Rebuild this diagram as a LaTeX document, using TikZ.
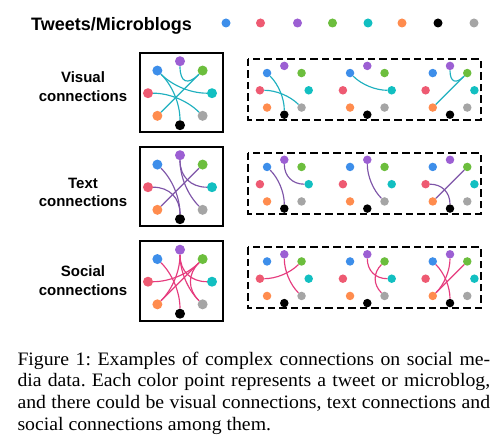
\documentclass[tikz,border=0pt]{standalone}
\usepackage{fontspec}
\setmainfont{Liberation Serif}
\newfontfamily\hv{Liberation Sans}
\usetikzlibrary{calc}
\frenchspacing
\definecolor{cbl}{HTML}{3D8EEA}
\definecolor{cre}{HTML}{EE5A72}
\definecolor{cpu}{HTML}{9C5FD3}
\definecolor{cgr}{HTML}{6CBE3D}
\definecolor{ccy}{HTML}{12BFC1}
\definecolor{cor}{HTML}{FF8C4E}
\definecolor{cbk}{HTML}{000000}
\definecolor{cga}{HTML}{A5A5A5}
\definecolor{evis}{HTML}{1FB0BF}
\definecolor{etxt}{HTML}{7E55A8}
\definecolor{esoc}{HTML}{E63C7E}
\newcommand\mkgroup[5]{%
  \coordinate (#1-c) at (#2,#3);
  \foreach \n/\a in {pu/-90,gr/-45,cy/0,ga/45,bk/90,or/135,re/180,bl/-135}{
    \node[circle,fill=c\n,inner sep=0pt,minimum size=#5pt] (#1-\n) at ($(#1-c)+(\a:#4)$) {};
  }}
\newcommand\mkedge[4]{%
  \draw[#1] (#2-#3) .. controls ($(#2-#3.center)!0.667!(#2-c)$) and ($(#2-#4.center)!0.667!(#2-c)$) .. (#2-#4);}
\begin{document}
\begin{tikzpicture}[x=1pt,y=-1pt,
  solidbox/.style={draw=black,line width=2pt},
  dashbox/.style={draw=black,line width=2pt,dash pattern=on 7.5pt off 4pt},
  vis/.style={draw=evis,line width=1.15pt},
  txt/.style={draw=etxt,line width=1.15pt},
  soc/.style={draw=esoc,line width=1.15pt},
  lab/.style={font=\hv\bfseries\fontsize{15}{19}\selectfont,inner sep=0pt,anchor=base},
  capline/.style={font=\fontsize{19}{21.7}\selectfont,inner sep=0pt,anchor=base west,xscale=1.04,transform shape}]
\useasboundingbox (0,0) rectangle (503,443);
\fill[white] (0,0) rectangle (503,443);
% legend
\node[font=\hv\bfseries\fontsize{18}{20}\selectfont,inner sep=0pt,anchor=base west] (leg) at (31,31) {Tweets/Microblogs};
\foreach \n/\x in {bl/226,re/260.5,pu/297.5,gr/332.5,cy/368,or/402,bk/438,ga/474}{
  \node[circle,fill=c\n,inner sep=0pt,minimum size=9pt] (leg-\n) at (\x,23) {};
}
% labels
\node[lab] (l1a) at (83,82.7) {Visual};
\node[lab] (l1b) at (83,101.7) {connections};
\node[lab] (l2a) at (83,188.5) {Text};
\node[lab] (l2b) at (83,207) {connections};
\node[lab] (l3a) at (83,276.5) {Social};
\node[lab] (l3b) at (83,295.5) {connections};
% boxes
\foreach \r/\c in {1/93,2/187,3/281.5}{
  \draw[solidbox] (140,\c-40) rectangle (222.5,\c+39.5);
  \draw[dashbox] (248.3,\c-34) rectangle (480.7,\c+27);
}
% groups
\mkgroup{B1}{180}{93.2}{32}{10}
\mkgroup{B2}{180}{187.2}{32}{10}
\mkgroup{B3}{180}{281.7}{32}{10}
\foreach \r/\c in {1/90.3,2/184.2,3/278.7}{
  \mkgroup{S\r1}{284.3}{\c}{24.4}{8.5}
  \mkgroup{S\r2}{367.3}{\c}{24.4}{8.5}
  \mkgroup{S\r3}{450}{\c}{24.4}{8.5}
}
% visual connections
\mkedge{vis}{B1}{bl}{bk}
\mkedge{vis}{B1}{re}{ga}
\mkedge{vis}{B1}{bl}{cy}
\mkedge{vis}{B1}{pu}{gr}
\mkedge{vis}{B1}{or}{gr}
\mkedge{vis}{S11}{bl}{bk}
\mkedge{vis}{S11}{re}{ga}
\mkedge{vis}{S12}{bl}{cy}
\mkedge{vis}{S13}{pu}{gr}
\mkedge{vis}{S13}{or}{gr}
% text connections
\mkedge{txt}{B2}{bl}{bk}
\mkedge{txt}{B2}{pu}{cy}
\mkedge{txt}{B2}{pu}{ga}
\mkedge{txt}{B2}{re}{bk}
\mkedge{txt}{B2}{or}{gr}
\mkedge{txt}{S21}{bl}{bk}
\mkedge{txt}{S21}{pu}{cy}
\mkedge{txt}{S22}{pu}{ga}
\mkedge{txt}{S23}{re}{bk}
\mkedge{txt}{S23}{or}{gr}
% social connections
\mkedge{soc}{B3}{re}{gr}
\mkedge{soc}{B3}{pu}{ga}
\mkedge{soc}{B3}{pu}{cy}
\mkedge{soc}{B3}{gr}{ga}
\mkedge{soc}{B3}{bl}{bk}
\mkedge{soc}{B3}{pu}{or}
\mkedge{soc}{B3}{gr}{or}
\mkedge{soc}{S31}{re}{gr}
\mkedge{soc}{S31}{pu}{ga}
\mkedge{soc}{S32}{pu}{cy}
\mkedge{soc}{S32}{gr}{ga}
\mkedge{soc}{S33}{bl}{bk}
\mkedge{soc}{S33}{pu}{or}
\mkedge{soc}{S33}{gr}{or}
% caption
\node[capline] (cap1) at (17.3,365) {\hbox to 454.5pt{Figure 1: Examples of complex connections on social me-}};
\node[capline] (cap2) at (17.3,386.7) {\hbox to 454.5pt{dia data. Each color point represents a tweet or microblog,}};
\node[capline] (cap3) at (17.3,408.3) {\hbox to 454.5pt{and there could be visual connections, text connections and}};
\node[capline] (cap4) at (17.3,430) {social connections among them.};
\end{tikzpicture}
\end{document}
